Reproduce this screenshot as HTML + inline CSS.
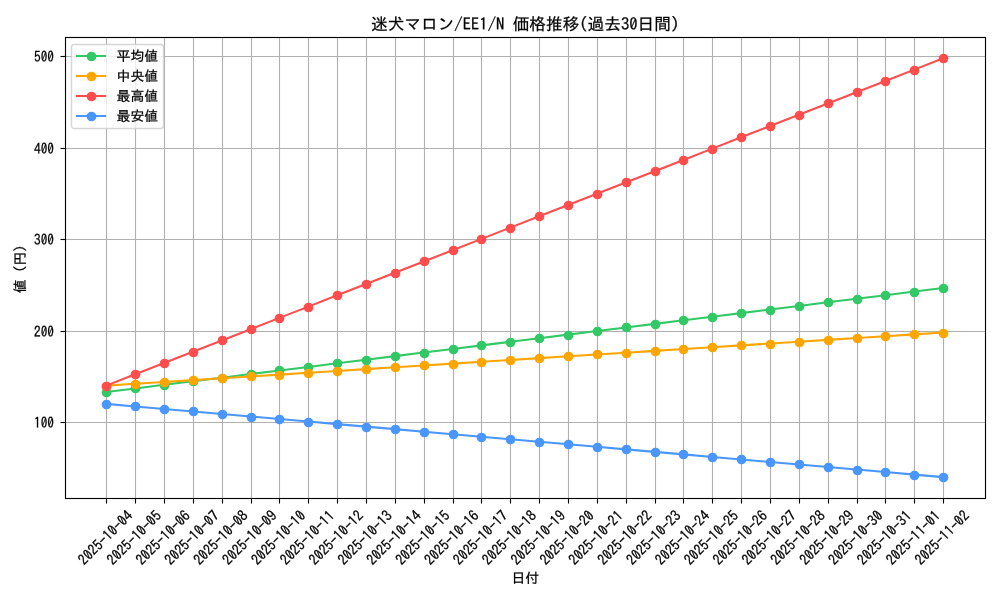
<!DOCTYPE html>
<html lang="ja"><head><meta charset="utf-8"><title>迷犬マロン/EE1/N 価格推移(過去30日間)</title>
<style>html,body{margin:0;padding:0;background:#fff;overflow:hidden}svg{display:block}text{font-family:"IPAGothic", "Liberation Sans", sans-serif;fill:#000;stroke:#000;stroke-width:0.25px}</style></head><body>
<svg width="1000" height="600" viewBox="0 0 1000 600">
<rect x="0" y="0" width="1000" height="600" fill="#fff"/>
<g stroke="#b0b0b0" stroke-width="1.11">
<line x1="106.5" y1="37.07" x2="106.5" y2="498.07"/>
<line x1="135.5" y1="37.07" x2="135.5" y2="498.07"/>
<line x1="164.5" y1="37.07" x2="164.5" y2="498.07"/>
<line x1="193.5" y1="37.07" x2="193.5" y2="498.07"/>
<line x1="222.5" y1="37.07" x2="222.5" y2="498.07"/>
<line x1="251.5" y1="37.07" x2="251.5" y2="498.07"/>
<line x1="279.5" y1="37.07" x2="279.5" y2="498.07"/>
<line x1="308.5" y1="37.07" x2="308.5" y2="498.07"/>
<line x1="337.5" y1="37.07" x2="337.5" y2="498.07"/>
<line x1="366.5" y1="37.07" x2="366.5" y2="498.07"/>
<line x1="395.5" y1="37.07" x2="395.5" y2="498.07"/>
<line x1="424.5" y1="37.07" x2="424.5" y2="498.07"/>
<line x1="453.5" y1="37.07" x2="453.5" y2="498.07"/>
<line x1="481.5" y1="37.07" x2="481.5" y2="498.07"/>
<line x1="510.5" y1="37.07" x2="510.5" y2="498.07"/>
<line x1="539.5" y1="37.07" x2="539.5" y2="498.07"/>
<line x1="568.5" y1="37.07" x2="568.5" y2="498.07"/>
<line x1="597.5" y1="37.07" x2="597.5" y2="498.07"/>
<line x1="626.5" y1="37.07" x2="626.5" y2="498.07"/>
<line x1="655.5" y1="37.07" x2="655.5" y2="498.07"/>
<line x1="683.5" y1="37.07" x2="683.5" y2="498.07"/>
<line x1="712.5" y1="37.07" x2="712.5" y2="498.07"/>
<line x1="741.5" y1="37.07" x2="741.5" y2="498.07"/>
<line x1="770.5" y1="37.07" x2="770.5" y2="498.07"/>
<line x1="799.5" y1="37.07" x2="799.5" y2="498.07"/>
<line x1="828.5" y1="37.07" x2="828.5" y2="498.07"/>
<line x1="857.5" y1="37.07" x2="857.5" y2="498.07"/>
<line x1="885.5" y1="37.07" x2="885.5" y2="498.07"/>
<line x1="914.5" y1="37.07" x2="914.5" y2="498.07"/>
<line x1="943.5" y1="37.07" x2="943.5" y2="498.07"/>
<line x1="64.51" y1="422.5" x2="985.00" y2="422.5"/>
<line x1="64.51" y1="331.5" x2="985.00" y2="331.5"/>
<line x1="64.51" y1="239.5" x2="985.00" y2="239.5"/>
<line x1="64.51" y1="148.5" x2="985.00" y2="148.5"/>
<line x1="64.51" y1="56.5" x2="985.00" y2="56.5"/>
</g>
<g stroke="#000" stroke-width="1.11">
<line x1="106.5" y1="498.00" x2="106.5" y2="503.50"/>
<line x1="135.5" y1="498.00" x2="135.5" y2="503.50"/>
<line x1="164.5" y1="498.00" x2="164.5" y2="503.50"/>
<line x1="193.5" y1="498.00" x2="193.5" y2="503.50"/>
<line x1="222.5" y1="498.00" x2="222.5" y2="503.50"/>
<line x1="251.5" y1="498.00" x2="251.5" y2="503.50"/>
<line x1="279.5" y1="498.00" x2="279.5" y2="503.50"/>
<line x1="308.5" y1="498.00" x2="308.5" y2="503.50"/>
<line x1="337.5" y1="498.00" x2="337.5" y2="503.50"/>
<line x1="366.5" y1="498.00" x2="366.5" y2="503.50"/>
<line x1="395.5" y1="498.00" x2="395.5" y2="503.50"/>
<line x1="424.5" y1="498.00" x2="424.5" y2="503.50"/>
<line x1="453.5" y1="498.00" x2="453.5" y2="503.50"/>
<line x1="481.5" y1="498.00" x2="481.5" y2="503.50"/>
<line x1="510.5" y1="498.00" x2="510.5" y2="503.50"/>
<line x1="539.5" y1="498.00" x2="539.5" y2="503.50"/>
<line x1="568.5" y1="498.00" x2="568.5" y2="503.50"/>
<line x1="597.5" y1="498.00" x2="597.5" y2="503.50"/>
<line x1="626.5" y1="498.00" x2="626.5" y2="503.50"/>
<line x1="655.5" y1="498.00" x2="655.5" y2="503.50"/>
<line x1="683.5" y1="498.00" x2="683.5" y2="503.50"/>
<line x1="712.5" y1="498.00" x2="712.5" y2="503.50"/>
<line x1="741.5" y1="498.00" x2="741.5" y2="503.50"/>
<line x1="770.5" y1="498.00" x2="770.5" y2="503.50"/>
<line x1="799.5" y1="498.00" x2="799.5" y2="503.50"/>
<line x1="828.5" y1="498.00" x2="828.5" y2="503.50"/>
<line x1="857.5" y1="498.00" x2="857.5" y2="503.50"/>
<line x1="885.5" y1="498.00" x2="885.5" y2="503.50"/>
<line x1="914.5" y1="498.00" x2="914.5" y2="503.50"/>
<line x1="943.5" y1="498.00" x2="943.5" y2="503.50"/>
<line x1="60.50" y1="422.5" x2="65.00" y2="422.5"/>
<line x1="60.50" y1="331.5" x2="65.00" y2="331.5"/>
<line x1="60.50" y1="239.5" x2="65.00" y2="239.5"/>
<line x1="60.50" y1="148.5" x2="65.00" y2="148.5"/>
<line x1="60.50" y1="56.5" x2="65.00" y2="56.5"/>
</g>
<g fill="#32c866" stroke="#32c866">
<polyline points="106.35,392.02 135.21,388.43 164.06,384.84 192.92,381.26 221.77,377.67 250.63,374.08 279.48,370.49 308.34,366.91 337.19,363.32 366.05,359.73 394.91,356.15 423.76,352.56 452.62,348.97 481.47,345.39 510.33,341.80 539.18,338.21 568.04,334.62 596.89,331.04 625.75,327.45 654.60,323.86 683.46,320.28 712.32,316.69 741.17,313.10 770.03,309.52 798.88,305.93 827.74,302.34 856.59,298.75 885.45,295.17 914.30,291.58 943.16,287.99" fill="none" stroke-width="2.08" stroke-linejoin="round"/>
<circle cx="106.5" cy="392.5" r="4.86" stroke="none"/>
<circle cx="135.5" cy="388.5" r="4.86" stroke="none"/>
<circle cx="164.5" cy="385.5" r="4.86" stroke="none"/>
<circle cx="193.5" cy="381.5" r="4.86" stroke="none"/>
<circle cx="222.5" cy="378.5" r="4.86" stroke="none"/>
<circle cx="251.5" cy="374.5" r="4.86" stroke="none"/>
<circle cx="279.5" cy="370.5" r="4.86" stroke="none"/>
<circle cx="308.5" cy="367.5" r="4.86" stroke="none"/>
<circle cx="337.5" cy="363.5" r="4.86" stroke="none"/>
<circle cx="366.5" cy="360.5" r="4.86" stroke="none"/>
<circle cx="395.5" cy="356.5" r="4.86" stroke="none"/>
<circle cx="424.5" cy="353.5" r="4.86" stroke="none"/>
<circle cx="453.5" cy="349.5" r="4.86" stroke="none"/>
<circle cx="481.5" cy="345.5" r="4.86" stroke="none"/>
<circle cx="510.5" cy="342.5" r="4.86" stroke="none"/>
<circle cx="539.5" cy="338.5" r="4.86" stroke="none"/>
<circle cx="568.5" cy="335.5" r="4.86" stroke="none"/>
<circle cx="597.5" cy="331.5" r="4.86" stroke="none"/>
<circle cx="626.5" cy="327.5" r="4.86" stroke="none"/>
<circle cx="655.5" cy="324.5" r="4.86" stroke="none"/>
<circle cx="683.5" cy="320.5" r="4.86" stroke="none"/>
<circle cx="712.5" cy="317.5" r="4.86" stroke="none"/>
<circle cx="741.5" cy="313.5" r="4.86" stroke="none"/>
<circle cx="770.5" cy="310.5" r="4.86" stroke="none"/>
<circle cx="799.5" cy="306.5" r="4.86" stroke="none"/>
<circle cx="828.5" cy="302.5" r="4.86" stroke="none"/>
<circle cx="857.5" cy="299.5" r="4.86" stroke="none"/>
<circle cx="885.5" cy="295.5" r="4.86" stroke="none"/>
<circle cx="914.5" cy="292.5" r="4.86" stroke="none"/>
<circle cx="943.5" cy="288.5" r="4.86" stroke="none"/>
</g>
<g fill="#ffa500" stroke="#ffa500">
<polyline points="106.35,385.61 135.21,383.78 164.06,381.95 192.92,380.12 221.77,378.29 250.63,376.46 279.48,374.63 308.34,372.80 337.19,370.97 366.05,369.14 394.91,367.31 423.76,365.48 452.62,363.65 481.47,361.82 510.33,359.99 539.18,358.16 568.04,356.33 596.89,354.50 625.75,352.67 654.60,350.84 683.46,349.01 712.32,347.18 741.17,345.35 770.03,343.52 798.88,341.69 827.74,339.86 856.59,338.03 885.45,336.20 914.30,334.37 943.16,332.54" fill="none" stroke-width="2.08" stroke-linejoin="round"/>
<circle cx="106.5" cy="386.5" r="4.86" stroke="none"/>
<circle cx="135.5" cy="384.5" r="4.86" stroke="none"/>
<circle cx="164.5" cy="382.5" r="4.86" stroke="none"/>
<circle cx="193.5" cy="380.5" r="4.86" stroke="none"/>
<circle cx="222.5" cy="378.5" r="4.86" stroke="none"/>
<circle cx="251.5" cy="376.5" r="4.86" stroke="none"/>
<circle cx="279.5" cy="375.5" r="4.86" stroke="none"/>
<circle cx="308.5" cy="373.5" r="4.86" stroke="none"/>
<circle cx="337.5" cy="371.5" r="4.86" stroke="none"/>
<circle cx="366.5" cy="369.5" r="4.86" stroke="none"/>
<circle cx="395.5" cy="367.5" r="4.86" stroke="none"/>
<circle cx="424.5" cy="365.5" r="4.86" stroke="none"/>
<circle cx="453.5" cy="364.5" r="4.86" stroke="none"/>
<circle cx="481.5" cy="362.5" r="4.86" stroke="none"/>
<circle cx="510.5" cy="360.5" r="4.86" stroke="none"/>
<circle cx="539.5" cy="358.5" r="4.86" stroke="none"/>
<circle cx="568.5" cy="356.5" r="4.86" stroke="none"/>
<circle cx="597.5" cy="354.5" r="4.86" stroke="none"/>
<circle cx="626.5" cy="353.5" r="4.86" stroke="none"/>
<circle cx="655.5" cy="351.5" r="4.86" stroke="none"/>
<circle cx="683.5" cy="349.5" r="4.86" stroke="none"/>
<circle cx="712.5" cy="347.5" r="4.86" stroke="none"/>
<circle cx="741.5" cy="345.5" r="4.86" stroke="none"/>
<circle cx="770.5" cy="344.5" r="4.86" stroke="none"/>
<circle cx="799.5" cy="342.5" r="4.86" stroke="none"/>
<circle cx="828.5" cy="340.5" r="4.86" stroke="none"/>
<circle cx="857.5" cy="338.5" r="4.86" stroke="none"/>
<circle cx="885.5" cy="336.5" r="4.86" stroke="none"/>
<circle cx="914.5" cy="334.5" r="4.86" stroke="none"/>
<circle cx="943.5" cy="333.5" r="4.86" stroke="none"/>
</g>
<g fill="#ff4d4d" stroke="#ff4d4d">
<polyline points="106.35,385.61 135.21,374.33 164.06,363.04 192.92,351.76 221.77,340.47 250.63,329.18 279.48,317.90 308.34,306.61 337.19,295.33 366.05,284.04 394.91,272.76 423.76,261.47 452.62,250.19 481.47,238.90 510.33,227.62 539.18,216.33 568.04,205.05 596.89,193.76 625.75,182.48 654.60,171.19 683.46,159.91 712.32,148.62 741.17,137.34 770.03,126.05 798.88,114.76 827.74,103.48 856.59,92.19 885.45,80.91 914.30,69.62 943.16,58.34" fill="none" stroke-width="2.08" stroke-linejoin="round"/>
<circle cx="106.5" cy="386.5" r="4.86" stroke="none"/>
<circle cx="135.5" cy="374.5" r="4.86" stroke="none"/>
<circle cx="164.5" cy="363.5" r="4.86" stroke="none"/>
<circle cx="193.5" cy="352.5" r="4.86" stroke="none"/>
<circle cx="222.5" cy="340.5" r="4.86" stroke="none"/>
<circle cx="251.5" cy="329.5" r="4.86" stroke="none"/>
<circle cx="279.5" cy="318.5" r="4.86" stroke="none"/>
<circle cx="308.5" cy="307.5" r="4.86" stroke="none"/>
<circle cx="337.5" cy="295.5" r="4.86" stroke="none"/>
<circle cx="366.5" cy="284.5" r="4.86" stroke="none"/>
<circle cx="395.5" cy="273.5" r="4.86" stroke="none"/>
<circle cx="424.5" cy="261.5" r="4.86" stroke="none"/>
<circle cx="453.5" cy="250.5" r="4.86" stroke="none"/>
<circle cx="481.5" cy="239.5" r="4.86" stroke="none"/>
<circle cx="510.5" cy="228.5" r="4.86" stroke="none"/>
<circle cx="539.5" cy="216.5" r="4.86" stroke="none"/>
<circle cx="568.5" cy="205.5" r="4.86" stroke="none"/>
<circle cx="597.5" cy="194.5" r="4.86" stroke="none"/>
<circle cx="626.5" cy="182.5" r="4.86" stroke="none"/>
<circle cx="655.5" cy="171.5" r="4.86" stroke="none"/>
<circle cx="683.5" cy="160.5" r="4.86" stroke="none"/>
<circle cx="712.5" cy="149.5" r="4.86" stroke="none"/>
<circle cx="741.5" cy="137.5" r="4.86" stroke="none"/>
<circle cx="770.5" cy="126.5" r="4.86" stroke="none"/>
<circle cx="799.5" cy="115.5" r="4.86" stroke="none"/>
<circle cx="828.5" cy="103.5" r="4.86" stroke="none"/>
<circle cx="857.5" cy="92.5" r="4.86" stroke="none"/>
<circle cx="885.5" cy="81.5" r="4.86" stroke="none"/>
<circle cx="914.5" cy="70.5" r="4.86" stroke="none"/>
<circle cx="943.5" cy="58.5" r="4.86" stroke="none"/>
</g>
<g fill="#4a96ff" stroke="#4a96ff">
<polyline points="106.35,403.91 135.21,406.44 164.06,408.96 192.92,411.48 221.77,414.01 250.63,416.53 279.48,419.06 308.34,421.58 337.19,424.11 366.05,426.63 394.91,429.15 423.76,431.68 452.62,434.20 481.47,436.73 510.33,439.25 539.18,441.78 568.04,444.30 596.89,446.82 625.75,449.35 654.60,451.87 683.46,454.40 712.32,456.92 741.17,459.45 770.03,461.97 798.88,464.49 827.74,467.02 856.59,469.54 885.45,472.07 914.30,474.59 943.16,477.12" fill="none" stroke-width="2.08" stroke-linejoin="round"/>
<circle cx="106.5" cy="404.5" r="4.86" stroke="none"/>
<circle cx="135.5" cy="406.5" r="4.86" stroke="none"/>
<circle cx="164.5" cy="409.5" r="4.86" stroke="none"/>
<circle cx="193.5" cy="411.5" r="4.86" stroke="none"/>
<circle cx="222.5" cy="414.5" r="4.86" stroke="none"/>
<circle cx="251.5" cy="417.5" r="4.86" stroke="none"/>
<circle cx="279.5" cy="419.5" r="4.86" stroke="none"/>
<circle cx="308.5" cy="422.5" r="4.86" stroke="none"/>
<circle cx="337.5" cy="424.5" r="4.86" stroke="none"/>
<circle cx="366.5" cy="427.5" r="4.86" stroke="none"/>
<circle cx="395.5" cy="429.5" r="4.86" stroke="none"/>
<circle cx="424.5" cy="432.5" r="4.86" stroke="none"/>
<circle cx="453.5" cy="434.5" r="4.86" stroke="none"/>
<circle cx="481.5" cy="437.5" r="4.86" stroke="none"/>
<circle cx="510.5" cy="439.5" r="4.86" stroke="none"/>
<circle cx="539.5" cy="442.5" r="4.86" stroke="none"/>
<circle cx="568.5" cy="444.5" r="4.86" stroke="none"/>
<circle cx="597.5" cy="447.5" r="4.86" stroke="none"/>
<circle cx="626.5" cy="449.5" r="4.86" stroke="none"/>
<circle cx="655.5" cy="452.5" r="4.86" stroke="none"/>
<circle cx="683.5" cy="454.5" r="4.86" stroke="none"/>
<circle cx="712.5" cy="457.5" r="4.86" stroke="none"/>
<circle cx="741.5" cy="459.5" r="4.86" stroke="none"/>
<circle cx="770.5" cy="462.5" r="4.86" stroke="none"/>
<circle cx="799.5" cy="464.5" r="4.86" stroke="none"/>
<circle cx="828.5" cy="467.5" r="4.86" stroke="none"/>
<circle cx="857.5" cy="470.5" r="4.86" stroke="none"/>
<circle cx="885.5" cy="472.5" r="4.86" stroke="none"/>
<circle cx="914.5" cy="475.5" r="4.86" stroke="none"/>
<circle cx="943.5" cy="477.5" r="4.86" stroke="none"/>
</g>
<rect x="65.5" y="37.5" width="920.0" height="461.0" fill="none" stroke="#000" stroke-width="1.11" stroke-linejoin="miter"/>
<text x="525.15" y="29.64" font-size="16.67" text-anchor="middle">迷犬マロン/EE1/N 価格推移(過去30日間)</text>
<text transform="translate(53.99,428.36) scale(0.96,1.060)" font-size="13.89" text-anchor="end">100</text>
<text transform="translate(53.99,336.86) scale(0.96,1.060)" font-size="13.89" text-anchor="end">200</text>
<text transform="translate(53.99,245.35) scale(0.96,1.060)" font-size="13.89" text-anchor="end">300</text>
<text transform="translate(53.99,153.85) scale(0.96,1.060)" font-size="13.89" text-anchor="end">400</text>
<text transform="translate(53.99,62.34) scale(0.96,1.060)" font-size="13.89" text-anchor="end">500</text>
<text transform="translate(133.55,516.87) rotate(-45) scale(1,1.060)" font-size="13.89" text-anchor="end">2025-10-04</text>
<text transform="translate(162.41,516.87) rotate(-45) scale(1,1.060)" font-size="13.89" text-anchor="end">2025-10-05</text>
<text transform="translate(191.26,516.87) rotate(-45) scale(1,1.060)" font-size="13.89" text-anchor="end">2025-10-06</text>
<text transform="translate(220.12,516.87) rotate(-45) scale(1,1.060)" font-size="13.89" text-anchor="end">2025-10-07</text>
<text transform="translate(248.97,516.87) rotate(-45) scale(1,1.060)" font-size="13.89" text-anchor="end">2025-10-08</text>
<text transform="translate(277.83,516.87) rotate(-45) scale(1,1.060)" font-size="13.89" text-anchor="end">2025-10-09</text>
<text transform="translate(306.68,516.87) rotate(-45) scale(1,1.060)" font-size="13.89" text-anchor="end">2025-10-10</text>
<text transform="translate(335.54,516.87) rotate(-45) scale(1,1.060)" font-size="13.89" text-anchor="end">2025-10-11</text>
<text transform="translate(364.39,516.87) rotate(-45) scale(1,1.060)" font-size="13.89" text-anchor="end">2025-10-12</text>
<text transform="translate(393.25,516.87) rotate(-45) scale(1,1.060)" font-size="13.89" text-anchor="end">2025-10-13</text>
<text transform="translate(422.11,516.87) rotate(-45) scale(1,1.060)" font-size="13.89" text-anchor="end">2025-10-14</text>
<text transform="translate(450.96,516.87) rotate(-45) scale(1,1.060)" font-size="13.89" text-anchor="end">2025-10-15</text>
<text transform="translate(479.82,516.87) rotate(-45) scale(1,1.060)" font-size="13.89" text-anchor="end">2025-10-16</text>
<text transform="translate(508.67,516.87) rotate(-45) scale(1,1.060)" font-size="13.89" text-anchor="end">2025-10-17</text>
<text transform="translate(537.53,516.87) rotate(-45) scale(1,1.060)" font-size="13.89" text-anchor="end">2025-10-18</text>
<text transform="translate(566.38,516.87) rotate(-45) scale(1,1.060)" font-size="13.89" text-anchor="end">2025-10-19</text>
<text transform="translate(595.24,516.87) rotate(-45) scale(1,1.060)" font-size="13.89" text-anchor="end">2025-10-20</text>
<text transform="translate(624.09,516.87) rotate(-45) scale(1,1.060)" font-size="13.89" text-anchor="end">2025-10-21</text>
<text transform="translate(652.95,516.87) rotate(-45) scale(1,1.060)" font-size="13.89" text-anchor="end">2025-10-22</text>
<text transform="translate(681.80,516.87) rotate(-45) scale(1,1.060)" font-size="13.89" text-anchor="end">2025-10-23</text>
<text transform="translate(710.66,516.87) rotate(-45) scale(1,1.060)" font-size="13.89" text-anchor="end">2025-10-24</text>
<text transform="translate(739.52,516.87) rotate(-45) scale(1,1.060)" font-size="13.89" text-anchor="end">2025-10-25</text>
<text transform="translate(768.37,516.87) rotate(-45) scale(1,1.060)" font-size="13.89" text-anchor="end">2025-10-26</text>
<text transform="translate(797.23,516.87) rotate(-45) scale(1,1.060)" font-size="13.89" text-anchor="end">2025-10-27</text>
<text transform="translate(826.08,516.87) rotate(-45) scale(1,1.060)" font-size="13.89" text-anchor="end">2025-10-28</text>
<text transform="translate(854.94,516.87) rotate(-45) scale(1,1.060)" font-size="13.89" text-anchor="end">2025-10-29</text>
<text transform="translate(883.79,516.87) rotate(-45) scale(1,1.060)" font-size="13.89" text-anchor="end">2025-10-30</text>
<text transform="translate(912.65,516.87) rotate(-45) scale(1,1.060)" font-size="13.89" text-anchor="end">2025-10-31</text>
<text transform="translate(941.50,516.87) rotate(-45) scale(1,1.060)" font-size="13.89" text-anchor="end">2025-11-01</text>
<text transform="translate(970.36,516.87) rotate(-45) scale(1,1.060)" font-size="13.89" text-anchor="end">2025-11-02</text>
<text x="525.25" y="583.20" font-size="13.89" text-anchor="middle">日付</text>
<text transform="translate(25.00,269.07) rotate(-90)" font-size="13.89" text-anchor="middle">値 (円)</text>
<rect x="71.5" y="44.5" width="92.0" height="84.0" rx="2.78" ry="2.78" fill="#fff" fill-opacity="0.8" stroke="#ccc" stroke-opacity="0.8" stroke-width="1.39"/>
<line x1="75.88" y1="56.00" x2="106.12" y2="56.00" stroke="#32c866" stroke-width="2.08"/>
<circle cx="91.5" cy="56.50" r="4.86" fill="#32c866"/>
<text x="116.5" y="61.10" font-size="13.89">平均値</text>
<line x1="75.88" y1="76.00" x2="106.12" y2="76.00" stroke="#ffa500" stroke-width="2.08"/>
<circle cx="91.5" cy="76.50" r="4.86" fill="#ffa500"/>
<text x="116.5" y="81.10" font-size="13.89">中央値</text>
<line x1="75.88" y1="96.00" x2="106.12" y2="96.00" stroke="#ff4d4d" stroke-width="2.08"/>
<circle cx="91.5" cy="96.50" r="4.86" fill="#ff4d4d"/>
<text x="116.5" y="101.10" font-size="13.89">最高値</text>
<line x1="75.88" y1="116.00" x2="106.12" y2="116.00" stroke="#4a96ff" stroke-width="2.08"/>
<circle cx="91.5" cy="116.50" r="4.86" fill="#4a96ff"/>
<text x="116.5" y="121.10" font-size="13.89">最安値</text>
</svg></body></html>
